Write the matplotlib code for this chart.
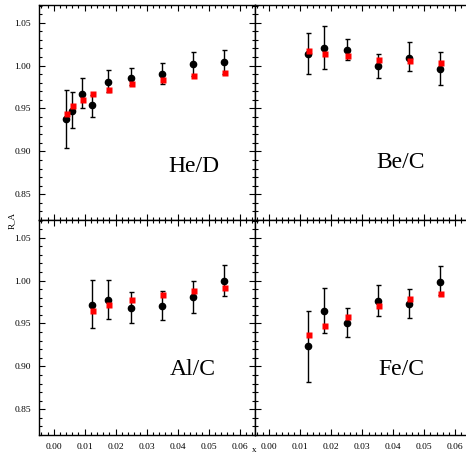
import matplotlib.pyplot as plt
from matplotlib.ticker import MultipleLocator

# x positions of the bins
x_he = [0.004, 0.006, 0.009, 0.0125, 0.0175, 0.025, 0.035, 0.045, 0.055]
x_c = [0.0125, 0.0175, 0.025, 0.035, 0.045, 0.055]

# He/D
he_data = [0.938, 0.947, 0.967, 0.954, 0.981, 0.985, 0.990, 1.002, 1.004]
he_lo = [0.904, 0.927, 0.950, 0.940, 0.969, 0.977, 0.979, 0.988, 0.990]
he_hi = [0.972, 0.969, 0.986, 0.966, 0.995, 0.997, 1.003, 1.016, 1.018]
he_model = [0.944, 0.953, 0.960, 0.967, 0.972, 0.978, 0.983, 0.988, 0.991]

# Be/C
be_data = [1.0135, 1.020, 1.018, 0.9995, 1.0085, 0.996]
be_lo = [0.990, 0.996, 1.0065, 0.986, 0.994, 0.977]
be_hi = [1.038, 1.046, 1.031, 1.0135, 1.027, 1.016]
be_model = [1.017, 1.014, 1.011, 1.007, 1.005, 1.003]

# Al/C
al_data = [0.972, 0.977, 0.968, 0.970, 0.981, 0.999]
al_lo = [0.945, 0.955, 0.951, 0.954, 0.962, 0.982]
al_hi = [1.001, 1.001, 0.987, 0.988, 1.000, 1.018]
al_model = [0.964, 0.972, 0.977, 0.983, 0.988, 0.991]

# Fe/C
fe_data = [0.924, 0.964, 0.950, 0.976, 0.973, 0.998]
fe_lo = [0.882, 0.939, 0.934, 0.959, 0.956, 0.983]
fe_hi = [0.965, 0.991, 0.968, 0.995, 0.990, 1.017]
fe_model = [0.936, 0.947, 0.958, 0.970, 0.978, 0.984]

panels = [
    ("He/D", x_he, he_data, he_lo, he_hi, he_model),
    ("Be/C", x_c, be_data, be_lo, be_hi, be_model),
    ("Al/C", x_c, al_data, al_lo, al_hi, al_model),
    ("Fe/C", x_c, fe_data, fe_lo, fe_hi, fe_model),
]
label_pos = [(0.0453, 0.882), (0.0425, 0.8865), (0.0448, 0.896), (0.0425, 0.896)]

serif = "Liberation Serif"
W, H = 466, 453
fig = plt.figure(figsize=(W / 100, H / 100), dpi=100)

left_px, top_px = 39.3, 5
pw, ph = 215.7, 215

for i, (name, xs, d, lo, hi, m) in enumerate(panels):
    r, c = divmod(i, 2)
    x0 = left_px + c * pw
    y0 = top_px + (r + 1) * ph
    ax = fig.add_axes([x0 / W, 1 - y0 / H, pw / W, ph / H])
    yerr = [[v - l for v, l in zip(d, lo)], [h - v for v, h in zip(d, hi)]]
    ax.errorbar(xs, d, yerr=yerr, fmt="o", color="black", ms=4.5,
                elinewidth=1.0, capsize=1.8, capthick=1.0, zorder=2)
    ax.plot([v + 0.0003 for v in xs], m, "s", color="red", ms=3.8,
            mec="none", zorder=3)
    ax.set_xlim(-0.00465, 0.065)
    ax.set_ylim(0.82, 1.0706)
    ax.xaxis.set_minor_locator(MultipleLocator(0.002))
    ax.yaxis.set_minor_locator(MultipleLocator(0.01))
    ax.tick_params(which="both", direction="in", top=True, right=(c == 0),
                   width=0.8, labelsize=6.8, pad=6)
    ax.tick_params(which="major", length=4)
    ax.tick_params(which="minor", length=2)
    ax.set_xticks([0.0, 0.01, 0.02, 0.03, 0.04, 0.05, 0.06])
    ax.set_yticks([0.85, 0.90, 0.95, 1.00, 1.05])
    ax.set_xticklabels(["%.2f" % v for v in ax.get_xticks()], family=serif)
    ax.set_yticklabels(["%.2f" % v for v in ax.get_yticks()], family=serif)
    if r == 0:
        ax.tick_params(labelbottom=False)
    if c == 1:
        ax.tick_params(labelleft=False)
    for s in ax.spines.values():
        s.set_linewidth(1.0)
    tx, ty = label_pos[i]
    ax.text(tx, ty, name, family=serif, fontsize=17, ha="center",
            va="center")

fig.text(12 / W, 1 - 220 / H, "R_A", rotation=90, ha="center", va="center",
         family=serif, fontsize=6.5)
fig.text(254 / W, 1 - 450 / H, "x", ha="center", va="center",
         family=serif, fontsize=6.5)

fig.savefig("out.png", dpi=100)
